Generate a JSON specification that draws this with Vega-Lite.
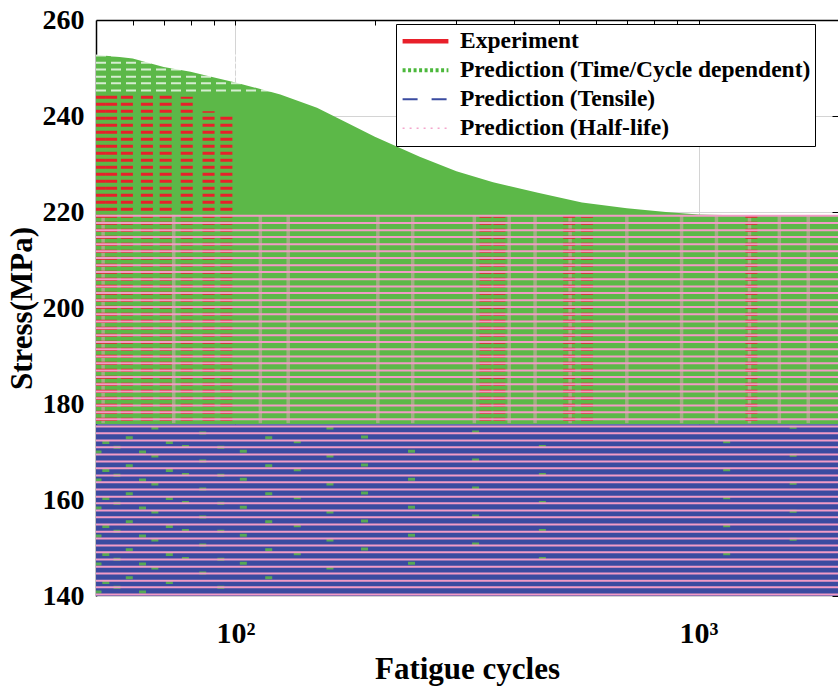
{
  "$schema": "https://vega.github.io/schema/vega-lite/v6.json",
  "width": 742,
  "height": 576,
  "autosize": {"type": "none"},
  "padding": {"left": 96, "top": 20, "right": 0, "bottom": 90},
  "background": "white",
  "config": {
    "view": {"stroke": null},
    "font": "Liberation Serif",
    "axis": {
      "labelFont": "Liberation Serif",
      "labelFontWeight": "bold",
      "labelColor": "black",
      "titleFont": "Liberation Serif",
      "titleFontWeight": "bold",
      "titleColor": "black",
      "gridColor": "#d4d4d4",
      "gridWidth": 1
    }
  },
  "datasets": {
    "legend": [
      {"series": "Experiment", "n": 50, "stress": 140},
      {"series": "Prediction (Time/Cycle dependent)", "n": 50, "stress": 140},
      {"series": "Prediction (Tensile)", "n": 50, "stress": 140},
      {"series": "Prediction (Half-life)", "n": 50, "stress": 140}
    ],
    "envelope": [
      {"n": 50, "top": 252.7}, {"n": 55, "top": 252.4}, {"n": 60, "top": 252.0},
      {"n": 70, "top": 250.2}, {"n": 80, "top": 249.2}, {"n": 90, "top": 248.0},
      {"n": 100, "top": 247.0}, {"n": 125, "top": 244.5}, {"n": 150, "top": 241.7},
      {"n": 175, "top": 238.5}, {"n": 200, "top": 235.7}, {"n": 250, "top": 231.5},
      {"n": 300, "top": 228.5}, {"n": 360, "top": 226.2}, {"n": 450, "top": 224.0},
      {"n": 560, "top": 222.0}, {"n": 700, "top": 220.8}, {"n": 850, "top": 220.0},
      {"n": 1000, "top": 219.5}, {"n": 1200, "top": 219.3}, {"n": 2000, "top": 219.3}
    ],
    "tensile": [
      {"n": 50, "lo": 140, "hi": 175.8},
      {"n": 2000, "lo": 140, "hi": 175.8}
    ],
    "pinkcols": [
      {"n": 51.8, "lo": 176, "hi": 219.4}, {"n": 73.6, "lo": 176, "hi": 219.4},
      {"n": 113.2, "lo": 176, "hi": 219.4}, {"n": 130, "lo": 176, "hi": 219.4},
      {"n": 203, "lo": 176, "hi": 219.4}, {"n": 241.4, "lo": 176, "hi": 219.4},
      {"n": 328, "lo": 176, "hi": 219.4}, {"n": 390, "lo": 176, "hi": 219.4},
      {"n": 443.6, "lo": 176, "hi": 219.4}, {"n": 528, "lo": 176, "hi": 219.4},
      {"n": 700, "lo": 176, "hi": 219.4}, {"n": 919, "lo": 176, "hi": 219.4},
      {"n": 1093, "lo": 176, "hi": 219.4}, {"n": 1288, "lo": 176, "hi": 219.4},
      {"n": 1494, "lo": 176, "hi": 219.4}, {"n": 1725, "lo": 176, "hi": 219.4}
    ],
    "experiment": [
      {"n": 50.75, "lo": 176.5, "hi": 244.5}, {"n": 53.9, "lo": 176.5, "hi": 244.5},
      {"n": 58.3, "lo": 176.5, "hi": 244.5}, {"n": 64.4, "lo": 176.5, "hi": 244.5},
      {"n": 70.7, "lo": 176.5, "hi": 244.3}, {"n": 78.5, "lo": 176.5, "hi": 244.0},
      {"n": 87.5, "lo": 176.5, "hi": 241.0}, {"n": 95.6, "lo": 176.5, "hi": 240.0},
      {"n": 346.6, "lo": 176.5, "hi": 219.0}, {"n": 371.5, "lo": 176.5, "hi": 219.0},
      {"n": 525.4, "lo": 176.5, "hi": 219.2}, {"n": 574.3, "lo": 176.5, "hi": 219.0},
      {"n": 1300, "lo": 176.5, "hi": 219.2}
    ],
    "specks": [
      {"n": 50.5, "lo": 140.5, "hi": 175.5}, {"n": 52.5, "lo": 142.5, "hi": 175.5},
      {"n": 55.5, "lo": 141.5, "hi": 175.5}, {"n": 59, "lo": 143.5, "hi": 175.5},
      {"n": 63, "lo": 140.5, "hi": 175.5}, {"n": 67, "lo": 145.5, "hi": 175.5},
      {"n": 72, "lo": 142.5, "hi": 175.5}, {"n": 78, "lo": 147.5, "hi": 175.5},
      {"n": 85, "lo": 144.5, "hi": 175.5}, {"n": 93, "lo": 141.5, "hi": 175.5},
      {"n": 104, "lo": 146.5, "hi": 175.5}, {"n": 118, "lo": 143.5, "hi": 175.5},
      {"n": 136, "lo": 148.5, "hi": 175.5}, {"n": 160, "lo": 145.5, "hi": 175.5},
      {"n": 190, "lo": 149.5, "hi": 175.5}, {"n": 240, "lo": 146.5, "hi": 175.5},
      {"n": 330, "lo": 150.5, "hi": 175.5}, {"n": 460, "lo": 147.5, "hi": 175.5},
      {"n": 1150, "lo": 148.5, "hi": 175.5}, {"n": 1600, "lo": 151.5, "hi": 175.5}
    ],
    "stripes": [
      {"stress": 140.3}, {"stress": 141.8}, {"stress": 143.2}, {"stress": 144.7},
      {"stress": 146.1}, {"stress": 147.6}, {"stress": 149.1}, {"stress": 150.5},
      {"stress": 152.0}, {"stress": 153.4}, {"stress": 154.9}, {"stress": 156.4},
      {"stress": 157.8}, {"stress": 159.3}, {"stress": 160.7}, {"stress": 162.2},
      {"stress": 163.7}, {"stress": 165.1}, {"stress": 166.6}, {"stress": 168.0},
      {"stress": 169.5}, {"stress": 171.0}, {"stress": 172.4}, {"stress": 173.9},
      {"stress": 175.3}, {"stress": 176.8}, {"stress": 178.3}, {"stress": 179.7},
      {"stress": 181.2}, {"stress": 182.6}, {"stress": 184.1}, {"stress": 185.6},
      {"stress": 187.0}, {"stress": 188.5}, {"stress": 189.9}, {"stress": 191.4},
      {"stress": 192.9}, {"stress": 194.3}, {"stress": 195.8}, {"stress": 197.2},
      {"stress": 198.7}, {"stress": 200.2}, {"stress": 201.6}, {"stress": 203.1},
      {"stress": 204.5}, {"stress": 206.0}, {"stress": 207.5}, {"stress": 208.9},
      {"stress": 210.4}, {"stress": 211.8}, {"stress": 213.3}, {"stress": 214.8},
      {"stress": 216.2}, {"stress": 217.7}, {"stress": 219.2}
    ],
    "gaps": [
      {"stress": 245.3, "n0": 50, "n1": 120}, {"stress": 246.8, "n0": 50, "n1": 120},
      {"stress": 248.2, "n0": 50, "n1": 120}, {"stress": 249.7, "n0": 50, "n1": 120},
      {"stress": 251.1, "n0": 50, "n1": 120}, {"stress": 252.6, "n0": 50, "n1": 120}
    ]
  },
  "resolve": {"axis": {"x": "independent", "y": "independent"}},
  "layer": [
    {
      "data": {"name": "legend"},
      "mark": {"type": "line", "clip": true},
      "encoding": {
        "x": {"field": "n", "type": "quantitative", "scale": {"type": "log", "domain": [50, 2000]}, "axis": null},
        "y": {"field": "stress", "type": "quantitative", "scale": {"domain": [140, 260], "nice": false, "zero": false}, "axis": null},
        "color": {
          "field": "series", "type": "nominal",
          "scale": {"domain": ["Experiment", "Prediction (Time/Cycle dependent)", "Prediction (Tensile)", "Prediction (Half-life)"],
                    "range": ["#e8202a", "#4cb83c", "#3a4ba0", "#f4a6cc"]},
          "legend": {
            "title": null, "orient": "none", "legendX": 300, "legendY": 4,
            "symbolType": "stroke", "symbolSize": 2100,
            "labelFont": "Liberation Serif", "labelFontWeight": "bold", "labelFontSize": 23.5,
            "labelColor": "black", "labelLimit": 0, "labelOffset": 9,
            "clipHeight": 26.5, "rowPadding": 2,
            "fillColor": "white", "strokeColor": "black", "padding": 4
          }
        },
        "strokeDash": {
          "field": "series", "type": "nominal",
          "scale": {"domain": ["Experiment", "Prediction (Time/Cycle dependent)", "Prediction (Tensile)", "Prediction (Half-life)"],
                    "range": [[1, 0], [3, 2.5], [15, 14], [2, 5]]}
        },
        "strokeWidth": {
          "field": "series", "type": "nominal",
          "scale": {"type": "ordinal", "domain": ["Experiment", "Prediction (Time/Cycle dependent)", "Prediction (Tensile)", "Prediction (Half-life)"],
                    "range": [4.5, 4, 2, 1.5]}
        }
      }
    },
    {
      "data": {"name": "envelope"},
      "mark": {"type": "area", "color": "#5cb848", "clip": true},
      "encoding": {
        "x": {"field": "n", "type": "quantitative", "scale": {"type": "log", "domain": [50, 2000]},
              "axis": {"orient": "bottom", "values": [100, 1000],
                       "labelExpr": "datum.value == 100 ? '10²' : '10³'",
                       "ticks": false, "domain": false, "grid": true,
                       "labelFontSize": 30, "labelPadding": 22,
                       "title": "Fatigue cycles", "titleFontSize": 31, "titlePadding": 6}},
        "y": {"field": "top", "type": "quantitative", "scale": {"domain": [140, 260], "nice": false, "zero": false},
              "axis": {"orient": "left", "values": [140, 160, 180, 200, 220, 240, 260],
                       "ticks": false, "domain": true, "domainColor": "black", "domainWidth": 1.5,
                       "grid": true, "labelFontSize": 28, "labelPadding": 12,
                       "title": "Stress(MPa)", "titleFontSize": 31, "titlePadding": 4}},
        "y2": {"datum": 175.8}
      }
    },
    {
      "data": {"name": "pinkcols"},
      "mark": {"type": "rule", "color": "#f4a6cc", "strokeWidth": 3.5, "opacity": 0.45, "clip": true},
      "encoding": {
        "x": {"field": "n", "type": "quantitative", "scale": {"type": "log", "domain": [50, 2000]}, "axis": null},
        "y": {"field": "lo", "type": "quantitative", "scale": {"domain": [140, 260], "nice": false, "zero": false}, "axis": null},
        "y2": {"field": "hi"}
      }
    },
    {
      "data": {"name": "experiment"},
      "mark": {"type": "rule", "color": "#e8202a", "strokeWidth": 12, "strokeDash": [3, 4], "clip": true},
      "encoding": {
        "x": {"field": "n", "type": "quantitative", "scale": {"type": "log", "domain": [50, 2000]}, "axis": null},
        "y": {"field": "lo", "type": "quantitative", "scale": {"domain": [140, 260], "nice": false, "zero": false}, "axis": null},
        "y2": {"field": "hi"}
      }
    },
    {
      "data": {"name": "tensile"},
      "mark": {"type": "area", "color": "#3a4ba0", "clip": true},
      "encoding": {
        "x": {"field": "n", "type": "quantitative", "scale": {"type": "log", "domain": [50, 2000]},
              "axis": {"orient": "top", "values": [60, 70, 80, 90, 100, 200, 300, 400, 500, 600, 700, 800, 900, 1000, 2000],
                       "labels": false, "ticks": true, "tickSize": -5, "tickColor": "black", "tickWidth": 1,
                       "domain": true, "domainColor": "black", "domainWidth": 1.5, "grid": false, "title": null}},
        "y": {"field": "lo", "type": "quantitative", "scale": {"domain": [140, 260], "nice": false, "zero": false},
              "axis": {"orient": "right", "values": [140, 160, 180, 200, 220, 240, 260],
                       "labels": false, "ticks": true, "tickSize": -6, "tickColor": "black",
                       "domain": true, "domainColor": "black", "grid": false, "title": null}},
        "y2": {"field": "hi"}
      }
    },
    {
      "data": {"name": "specks"},
      "mark": {"type": "rule", "color": "#5cb848", "strokeWidth": 7, "strokeDash": [3, 25], "opacity": 0.85, "clip": true},
      "encoding": {
        "x": {"field": "n", "type": "quantitative", "scale": {"type": "log", "domain": [50, 2000]}, "axis": null},
        "y": {"field": "lo", "type": "quantitative", "scale": {"domain": [140, 260], "nice": false, "zero": false}, "axis": null},
        "y2": {"field": "hi"}
      }
    },
    {
      "data": {"name": "stripes"},
      "mark": {"type": "rule", "color": "#f29bc6", "strokeWidth": 2, "clip": true},
      "encoding": {
        "y": {"field": "stress", "type": "quantitative", "scale": {"domain": [140, 260], "nice": false, "zero": false}, "axis": null}
      }
    },
    {
      "data": {"name": "gaps"},
      "mark": {"type": "rule", "color": "white", "strokeWidth": 2, "strokeDash": [10, 5], "opacity": 0.75, "clip": true},
      "encoding": {
        "x": {"field": "n0", "type": "quantitative", "scale": {"type": "log", "domain": [50, 2000]}, "axis": null},
        "x2": {"field": "n1"},
        "y": {"field": "stress", "type": "quantitative", "scale": {"domain": [140, 260], "nice": false, "zero": false}, "axis": null}
      }
    }
  ]
}
